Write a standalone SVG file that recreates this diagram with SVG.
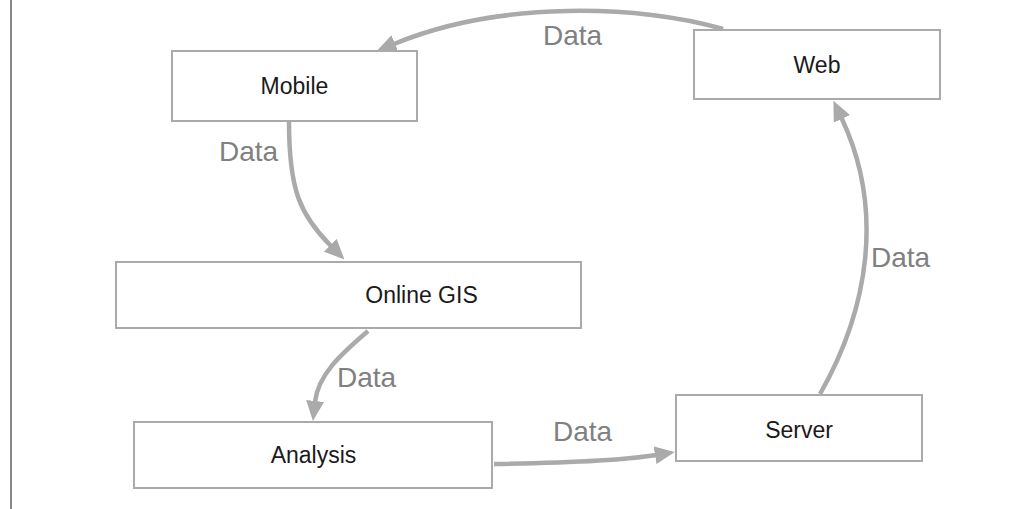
<svg xmlns="http://www.w3.org/2000/svg" width="1028" height="509" viewBox="0 0 1028 509">
<style>
.box{fill:#fff;stroke:#aaaaaa;stroke-width:2}
.lbl{font-family:"Liberation Sans",Arial,sans-serif;font-size:23px;fill:#1a1a1a;text-anchor:middle}
.edge{fill:none;stroke:#aaaaaa;stroke-width:4.5}
.elbl{font-family:"Liberation Sans",Arial,sans-serif;font-size:28px;fill:#808080}
</style>
<defs>
<marker id="arr" viewBox="0 0 20 18" refX="1" refY="9" markerWidth="20" markerHeight="18" markerUnits="userSpaceOnUse" orient="auto">
<path d="M0,0 L20,9 L0,18 z" fill="#aaaaaa"/>
</marker>
</defs>
<rect width="1028" height="509" fill="#fff"/>
<line x1="11" y1="0" x2="11" y2="509" stroke="#888" stroke-width="2"/>
<g id="connectors">
<path class="edge" d="M723,29 C640,5 500,0 394,44" marker-end="url(#arr)"/>
<path class="edge" d="M289,122 C289,190 300,215 331,246" marker-end="url(#arr)"/>
<path class="edge" d="M368,331 C340,355 318,375 315,402" marker-end="url(#arr)"/>
<path class="edge" d="M494,464 C560,463 620,461 656,455" marker-end="url(#arr)"/>
<path class="edge" d="M820,394 C868,310 885,210 841.5,118" marker-end="url(#arr)"/>
<text class="elbl" x="543" y="45">Data</text>
<text class="elbl" x="219" y="161">Data</text>
<text class="elbl" x="337" y="387">Data</text>
<text class="elbl" x="553" y="441">Data</text>
<text class="elbl" x="871" y="267">Data</text>
</g>
<g id="mobile"><rect class="box" x="172" y="51" width="245" height="70"/><text class="lbl" x="294.5" y="94">Mobile</text></g>
<g id="web"><rect class="box" x="694" y="30" width="246" height="69"/><text class="lbl" x="817" y="73">Web</text></g>
<g id="online-gis"><rect class="box" x="116" y="262" width="465" height="66"/><text class="lbl" x="421.5" y="303">Online GIS</text></g>
<g id="analysis"><rect class="box" x="134" y="422" width="358" height="66"/><text class="lbl" x="313.5" y="463">Analysis</text></g>
<g id="server"><rect class="box" x="676" y="395" width="246" height="66"/><text class="lbl" x="799" y="438">Server</text></g>
</svg>
